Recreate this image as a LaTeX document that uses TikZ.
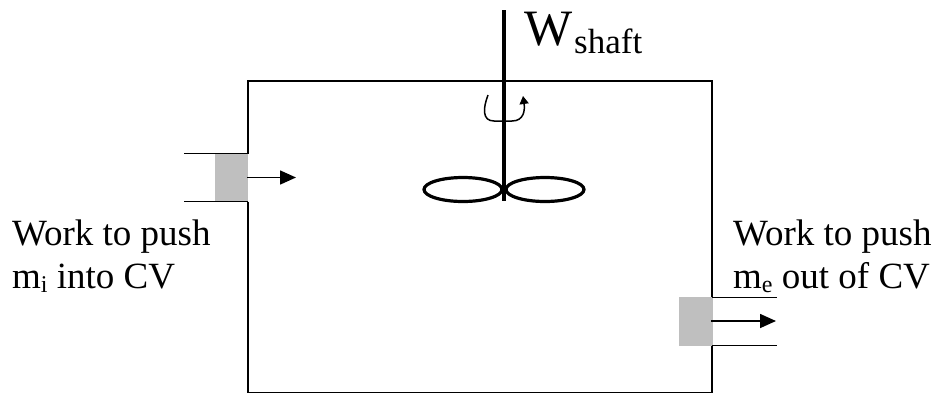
\documentclass[tikz,border=0pt]{standalone}
\usepackage{fontspec}
\setmainfont{Liberation Serif}
\usetikzlibrary{arrows.meta}
\newcommand{\lblsub}[1]{\raisebox{-4.5pt}{\fontsize{24}{24}\selectfont #1}}
\tikzset{
  wall/.style={line width=1.9pt,draw=black},
  pipe/.style={line width=1.6pt,draw=black},
  piston/.style={fill=black!25,draw=none,inner sep=0pt},
  flow/.style={line width=1.6pt,draw=black,-{Triangle[length=16pt,width=14pt]}},
  shaftline/.style={line width=4pt,draw=black},
  blade/.style={ellipse,line width=3.2pt,draw=black,minimum width=78pt,minimum height=24pt,inner sep=0pt},
  lbl/.style={anchor=base west,inner sep=0pt,font=\fontsize{37}{37}\selectfont},
}
\usetikzlibrary{shapes.geometric}
\begin{document}
\begin{tikzpicture}[x=1pt,y=-1pt]
\useasboundingbox (0,0) rectangle (939,394);
% control volume outline
\coordinate (tl) at (248,81);
\coordinate (tr) at (712,81);
\coordinate (bl) at (248,392.5);
\coordinate (br) at (712,392.5);
\coordinate (lu) at (248,153.5);
\coordinate (ld) at (248,201.5);
\coordinate (ru) at (712,297.5);
\coordinate (rd) at (712,345.5);
\draw[wall,line join=miter] (lu) -- (tl) -- (tr) -- (ru);
\draw[wall,line join=miter] (ld) -- (bl) -- (br) -- (rd);
% pistons
\node[piston,minimum width=33.5pt,minimum height=47pt] (pl) at (231.7,177.5) {};
\node[piston,minimum width=34pt,minimum height=49.5pt] (pr) at (696,321.7) {};
% pipes
\coordinate (lua) at (184,153.5);
\coordinate (lda) at (184,201.5);
\coordinate (rua) at (777,297.5);
\coordinate (rda) at (777,345.5);
\draw[pipe] (lua) -- (lu);
\draw[pipe] (lda) -- (ld);
\draw[pipe] (ru) -- (rua);
\draw[pipe] (rd) -- (rda);
% flow arrows
\coordinate (fl1) at (247,177.5);
\coordinate (fl2) at (296,177.5);
\coordinate (fr1) at (711,321);
\coordinate (fr2) at (776,321);
\draw[flow] (fl1) -- (fl2);
\draw[flow] (fr1) -- (fr2);
% shaft and blades
\coordinate (s1) at (504,10);
\coordinate (s2) at (504,201);
\node[blade] (b1) at (463,189.5) {};
\node[blade] (b2) at (545,189.5) {};
\draw[shaftline] (s1) -- (s2);
% rotation arrow
\coordinate (r1) at (488,95);
\coordinate (r2) at (523,96);
\draw[line width=1.5pt,-{Triangle[length=8pt,width=9pt]}] (r1) .. controls (483,108) and (482,121) .. (494,121) -- (512,121) .. controls (524,121) and (525,110) .. (r2);
% labels
\node[anchor=base west,inner sep=0pt,font=\fontsize{51}{51}\selectfont] (w) at (524,45) {W};
\node[anchor=base west,inner sep=0pt,font=\fontsize{35}{35}\selectfont] (ws) at (574,53) {shaft};
\node[lbl] (t1) at (12,245) {Work to push};
\node[lbl] (t2) at (12,288) {m\lblsub{i} into CV};
\node[lbl] (t3) at (733,245) {Work to push};
\node[lbl] (t4) at (733,288) {m\lblsub{e} out of CV};
\end{tikzpicture}
\end{document}
